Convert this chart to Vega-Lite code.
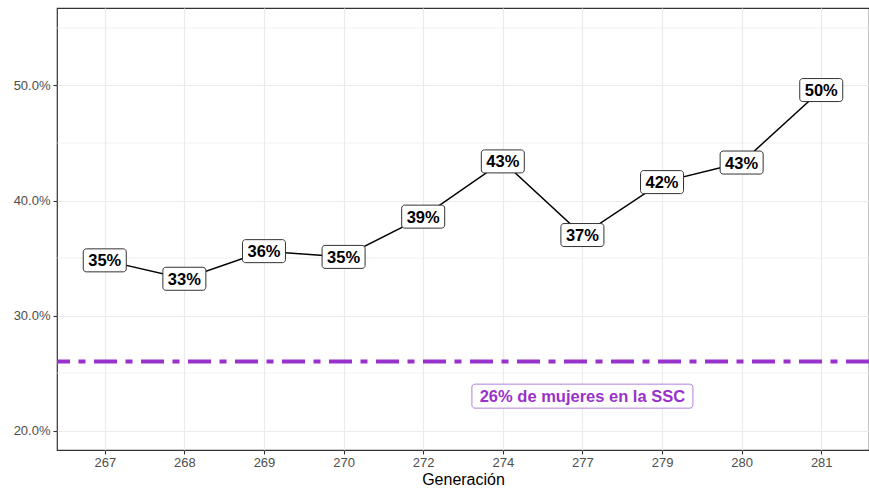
{
  "$schema": "https://vega.github.io/schema/vega-lite/v6.json",
  "width": 812,
  "height": 442,
  "autosize": {"type": "none"},
  "padding": {"left": 57, "top": 8, "right": 0, "bottom": 39},
  "background": "white",
  "config": {
    "font": "Liberation Sans",
    "view": {"stroke": "#333333", "strokeWidth": 1.2},
    "axis": {
      "domain": false,
      "grid": true,
      "gridColor": "#EBEBEB",
      "gridWidth": 1.2,
      "tickColor": "#333333",
      "tickSize": 4,
      "tickWidth": 1.1,
      "labelColor": "#4D4D4D",
      "labelFontSize": 13,
      "labelFont": "Liberation Sans",
      "titleFont": "Liberation Sans",
      "titleFontWeight": "normal",
      "titleColor": "#000000",
      "titleFontSize": 16
    }
  },
  "datasets": {
    "gens": [
      {"gen": "267", "pct": 0.348},
      {"gen": "268", "pct": 0.332},
      {"gen": "269", "pct": 0.356},
      {"gen": "270", "pct": 0.351},
      {"gen": "272", "pct": 0.386},
      {"gen": "274", "pct": 0.434},
      {"gen": "277", "pct": 0.370},
      {"gen": "279", "pct": 0.416},
      {"gen": "280", "pct": 0.433},
      {"gen": "281", "pct": 0.496}
    ],
    "minor": [{"m": 0.25}, {"m": 0.35}, {"m": 0.45}, {"m": 0.55}],
    "ref": [{"r": 0.26}],
    "note": [{"gen": "277", "y": 0.23, "label": "26% de mujeres en la SSC"}]
  },
  "layer": [
    {
      "data": {"name": "minor"},
      "mark": {"type": "rule", "color": "#EBEBEB", "strokeWidth": 0.7},
      "encoding": {
        "y": {
          "field": "m", "type": "quantitative",
          "scale": {"domain": [0.1832, 0.5673], "nice": false, "zero": false},
          "axis": {"values": [0.2, 0.3, 0.4, 0.5], "format": ".1%", "title": null, "labelPadding": 3}
        }
      }
    },
    {
      "data": {"name": "gens"},
      "mark": {"type": "line", "color": "#000000", "strokeWidth": 1.5},
      "encoding": {
        "x": {
          "field": "gen", "type": "nominal",
          "scale": {"type": "point", "padding": 0.6},
          "axis": {"labelAngle": 0, "title": "Generación", "labelPadding": 2, "titlePadding": 2}
        },
        "y": {
          "field": "pct", "type": "quantitative",
          "axis": {"values": [0.2, 0.3, 0.4, 0.5], "format": ".1%", "title": null, "labelPadding": 3}
        }
      }
    },
    {
      "data": {"name": "ref"},
      "mark": {"type": "rule", "color": "#9932CC", "strokeWidth": 4, "strokeDash": [23, 8.5, 7, 8.5]},
      "encoding": {
        "y": {"field": "r", "type": "quantitative"}
      }
    },
    {
      "data": {"name": "gens"},
      "mark": {"type": "rect", "width": 43, "height": 23, "fill": "white", "stroke": "#333333", "strokeWidth": 1, "cornerRadius": 3},
      "encoding": {
        "x": {"field": "gen", "type": "nominal"},
        "y": {"field": "pct", "type": "quantitative"}
      }
    },
    {
      "data": {"name": "gens"},
      "mark": {"type": "text", "fontSize": 16.5, "fontWeight": "bold", "color": "#000000", "baseline": "middle", "align": "center", "dy": 1},
      "encoding": {
        "x": {"field": "gen", "type": "nominal"},
        "y": {"field": "pct", "type": "quantitative"},
        "text": {"field": "pct", "type": "quantitative", "format": ".0%"}
      }
    },
    {
      "data": {"name": "note"},
      "mark": {"type": "rect", "width": 221, "height": 24, "fill": "white", "stroke": "#B27FDB", "strokeWidth": 1, "cornerRadius": 3},
      "encoding": {
        "x": {"field": "gen", "type": "nominal"},
        "y": {"field": "y", "type": "quantitative"}
      }
    },
    {
      "data": {"name": "note"},
      "mark": {"type": "text", "fontSize": 16.5, "fontWeight": "bold", "color": "#9932CC", "baseline": "middle", "align": "center", "dy": 1},
      "encoding": {
        "x": {"field": "gen", "type": "nominal"},
        "y": {"field": "y", "type": "quantitative"},
        "text": {"field": "label", "type": "nominal"}
      }
    }
  ]
}
